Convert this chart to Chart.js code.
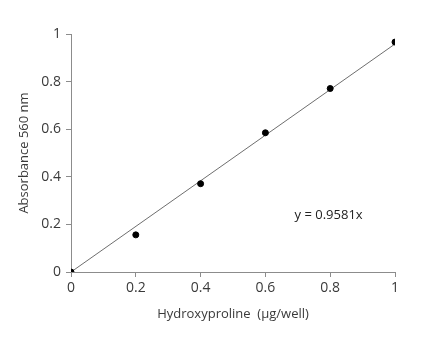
<!DOCTYPE html>
<html>
<head>
<meta charset="utf-8">
<script src="https://cdn.jsdelivr.net/npm/chart.js@4"></script>
<style>
  html, body { margin: 0; padding: 0; background: #fff; }
  #wrap { width: 441px; height: 352px; }
</style>
</head>
<body>
<div id="wrap"><canvas id="stdCurve"></canvas></div>
<script>
// Hydroxyproline standard curve
const concentrations = [0, 0.2, 0.4, 0.6, 0.8, 1.0];
const absorbances = [0, 0.156, 0.371, 0.585, 0.771, 0.966];
const slope = 0.9581;
const trendX = [0, 1];
const equationText = 'y = 0.9581x';
const xTitle = 'Hydroxyproline  (\u00b5g/well)';
const yTitle = 'Absorbance 560 nm';

const axisColor = '#8c8c8c';
const textColor = '#3a3a3a';
const fontFamily = '"Open Sans", "Liberation Sans", sans-serif';

// tick labels like Excel: 0, 0.2 ... 1
const fmt = v => String(Math.round(v * 10) / 10);

// draws the trendline equation inside the plot
const equationLabel = {
  id: 'equationLabel',
  afterDatasetsDraw(chart) {
    const { ctx, scales } = chart;
    ctx.save();
    ctx.font = '13px ' + fontFamily;
    ctx.fillStyle = '#222';
    ctx.textAlign = 'center';
    ctx.textBaseline = 'middle';
    ctx.fillText(equationText, scales.x.getPixelForValue(0.795), scales.y.getPixelForValue(0.237));
    ctx.restore();
  }
};

const ctx = document.getElementById('stdCurve');
new Chart(ctx, {
  type: 'scatter',
  data: {
    datasets: [
      {
        label: 'Linear fit',
        data: trendX.map(x => ({ x: x, y: slope * x })),
        showLine: true,
        borderColor: '#6e6e6e',
        borderWidth: 1,
        pointRadius: 0,
        order: 2
      },
      {
        label: 'Standards',
        data: concentrations.map((x, i) => ({ x: x, y: absorbances[i] })),
        backgroundColor: '#000',
        borderColor: '#000',
        pointRadius: 3,
        order: 1
      }
    ]
  },
  options: {
    responsive: true,
    maintainAspectRatio: false,
    animation: false,
    layout: { padding: { top: 34, right: 46, left: 16, bottom: 30 } },
    plugins: {
      legend: { display: false },
      tooltip: { enabled: false }
    },
    scales: {
      x: {
        type: 'linear',
        min: 0,
        max: 1,
        ticks: { stepSize: 0.2, color: textColor, font: { family: fontFamily, size: 14 }, padding: 3, callback: fmt },
        grid: { drawOnChartArea: false, drawTicks: true, tickLength: 5, color: axisColor },
        border: { color: axisColor },
        title: { display: true, text: xTitle, color: textColor, font: { family: fontFamily, size: 13 }, padding: { top: 0, bottom: 0 } },
        afterFit(scale) { scale.height = 50; }
      },
      y: {
        type: 'linear',
        min: 0,
        max: 1,
        ticks: { stepSize: 0.2, color: textColor, font: { family: fontFamily, size: 14 }, padding: 5, callback: fmt },
        grid: { drawOnChartArea: false, drawTicks: true, tickLength: 5, color: axisColor },
        border: { color: axisColor },
        title: { display: true, text: yTitle, color: textColor, font: { family: fontFamily, size: 13 }, padding: { top: 0, bottom: 0 } },
        afterFit(scale) { scale.width = 55; }
      }
    }
  },
  plugins: [equationLabel]
});
</script>
</body>
</html>
